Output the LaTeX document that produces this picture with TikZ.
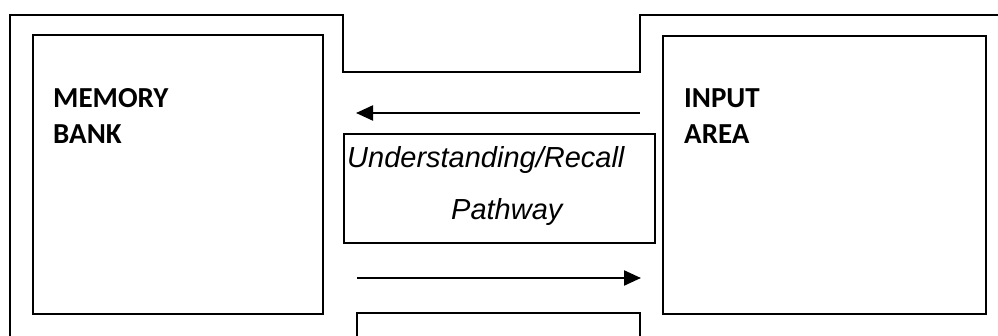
\documentclass[tikz,border=0pt]{standalone}
\usepackage{fontspec}
\setmainfont{Liberation Sans}
\newfontfamily\calib{Carlito}
\usetikzlibrary{arrows.meta}
\begin{document}
\begin{tikzpicture}[x=1pt,y=-1pt,
  outerline/.style={draw, line width=1.5pt, line join=miter},
  innerbox/.style={draw, line width=2pt, rectangle, inner sep=0pt, anchor=north west},
  pathbox/.style={draw, line width=1.6pt, rectangle, inner sep=0pt, anchor=north west},
  flow/.style={line width=2.2pt, -{Triangle[length=17pt,width=15pt]}},
  boldlabel/.style={anchor=base west, inner sep=0pt, font=\calib\bfseries\fontsize{29}{36}\selectfont},
  itlabel/.style={anchor=base west, inner sep=0pt, font=\itshape\fontsize{29}{36}\selectfont}]
\useasboundingbox (0,0) rectangle (998,336);
% outer frame
\coordinate (f1) at (10,340);
\coordinate (f2) at (10,15);
\coordinate (f3) at (343,15);
\coordinate (f4) at (343,72);
\coordinate (f5) at (640,72);
\coordinate (f6) at (640,15);
\coordinate (f7) at (1000,15);
\draw[outerline] (f1) -- (f2) -- (f3) -- (f4) -- (f5) -- (f6) -- (f7);
% boxes
\node[innerbox, minimum width=290pt, minimum height=279pt] (mem) at (32,34) {};
\node[innerbox, minimum width=323pt, minimum height=278pt] (inp) at (662,35) {};
\node[pathbox, minimum width=311pt, minimum height=109pt] (path) at (343,133) {};
% bottom box (cut by the edge)
\coordinate (b1) at (357,340);
\coordinate (b2) at (357,313);
\coordinate (b3) at (640,313);
\coordinate (b4) at (640,340);
\draw[line width=1.6pt] (b1) -- (b2) -- (b3) -- (b4);
% labels
\node[boldlabel] (memA) at (53,108) {MEMORY};
\node[boldlabel] (memB) at (53,144) {BANK};
\node[boldlabel] (inpA) at (684,108) {INPUT};
\node[boldlabel] (inpB) at (684,144) {AREA};
\node[itlabel] (pathA) at (347,168) {Understanding/Recall};
\node[itlabel] (pathB) at (451,220) {Pathway};
% arrows
\coordinate (u1) at (640,113);
\coordinate (u2) at (356,113);
\coordinate (l1) at (357,278);
\coordinate (l2) at (641,278);
\draw[flow] (u1) -- (u2);
\draw[flow] (l1) -- (l2);
\end{tikzpicture}
\end{document}
